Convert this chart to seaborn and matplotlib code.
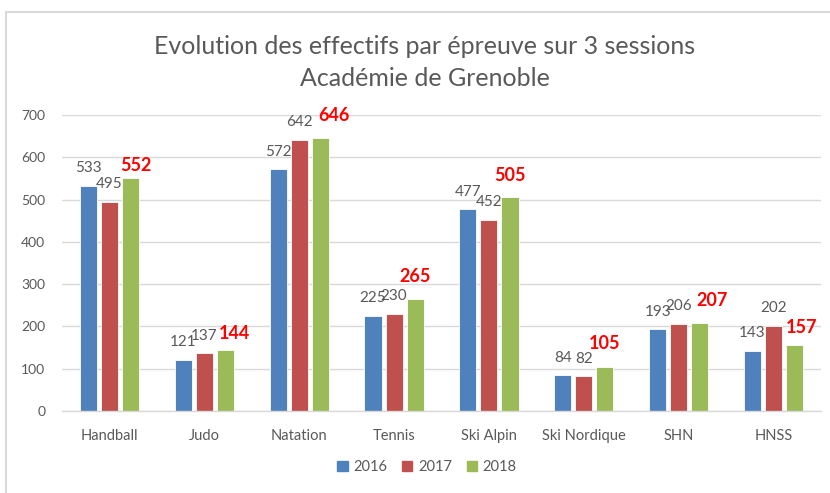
"""
Effectifs par épreuve - Académie de Grenoble (3 sessions)
"""
import matplotlib
matplotlib.use("Agg")
import matplotlib.pyplot as plt
import matplotlib.patches as mpatches
import pandas as pd
import seaborn as sns

# ── data ────────────────────────────────────────────────────────────────────
epreuves = ["Handball", "Judo", "Natation", "Tennis", "Ski Alpin",
            "Ski Nordique", "SHN", "HNSS"]
sessions = ["2016", "2017", "2018"]
eff_2016 = [533, 121, 572, 225, 477, 84, 193, 143]
eff_2017 = [495, 137, 642, 230, 452, 82, 206, 202]
eff_2018 = [552, 144, 646, 265, 505, 105, 207, 157]

# label nudges for the 2018 (red) labels, in pixels (dx, height above bar)
NUDGE_2018 = [(5, 12), (9, 17), (14, 22), (0, 22), (0, 22), (0, 23), (12, 23), (7, 17)]

COLORS = ["#4F81BD", "#C0504D", "#9BBB59"]
GREY = "#595959"

df = pd.DataFrame({"epreuve": epreuves * 3,
                   "session": [s for s in sessions for _ in epreuves],
                   "effectif": eff_2016 + eff_2017 + eff_2018})

sns.set_theme(style="white")
plt.rcParams["font.family"] = ["Lato", "DejaVu Sans"]

fig = plt.figure(figsize=(8.3, 4.93), dpi=100)
# outer chart frame (Excel style)
fig.patches.append(mpatches.Rectangle((6 / 830, -0.1), 1.2, (493 - 12) / 493 + 0.1,
                                      transform=fig.transFigure, fill=False,
                                      edgecolor="#d9d9d9", linewidth=1.5))
ax = fig.add_axes([62 / 830, 82 / 493, (821 - 62) / 830, (411 - 115) / 493])

sns.barplot(data=df, x="epreuve", y="effectif", hue="session", order=epreuves,
            hue_order=sessions, palette=COLORS, saturation=1, width=0.666, gap=0.19,
            edgecolor="white", linewidth=0.6, ax=ax)

# data labels (px -> pt : * 0.72)
for i, cont in enumerate(ax.containers):
    for j, bar in enumerate(cont):
        x = bar.get_x() + bar.get_width() / 2
        h = bar.get_height()
        if i == 2:
            dx, dy = NUDGE_2018[j]
            ax.annotate(f"{h:.0f}", (x, h), xytext=(dx * 0.72, dy * 0.72),
                        textcoords="offset points", ha="center", va="center",
                        color="#FF0000", fontsize=13, fontweight="bold")
        else:
            ax.annotate(f"{h:.0f}", (x, h), xytext=(0, 17.5 * 0.72),
                        textcoords="offset points", ha="center", va="center",
                        color=GREY, fontsize=11)

ax.set_ylim(0, 700)
ax.set_xlim(-0.5, 7.5)
ax.set_yticks(range(0, 701, 100))
ax.yaxis.grid(True, color="#d9d9d9", linewidth=1)
ax.set_axisbelow(True)
for s in ["top", "right", "left"]:
    ax.spines[s].set_visible(False)
ax.spines["bottom"].set_color("#d9d9d9")
ax.spines["bottom"].set_linewidth(1)
ax.tick_params(axis="x", length=0, pad=13, labelsize=10.5, labelcolor=GREY)
ax.tick_params(axis="y", length=0, pad=12, labelsize=10, labelcolor=GREY)
ax.set_xlabel("")
ax.set_ylabel("")

fig.text(425 / 830, (493 - 47) / 493, "Evolution des effectifs par épreuve sur 3 sessions",
         ha="center", va="center", fontsize=18, color=GREY)
fig.text(425 / 830, (493 - 78) / 493, "Académie de Grenoble",
         ha="center", va="center", fontsize=18, color=GREY)

ax.legend_.remove()
handles = [mpatches.Patch(color=c, label=s) for c, s in zip(COLORS, sessions)]
fig.legend(handles=handles, loc="center", bbox_to_anchor=(427 / 830, 26 / 493), ncol=3,
           frameon=False, fontsize=10.5, labelcolor=GREY, handlelength=0.7,
           handleheight=0.7, handletextpad=0.4, columnspacing=1.0)

fig.savefig("out.png", dpi=100)
